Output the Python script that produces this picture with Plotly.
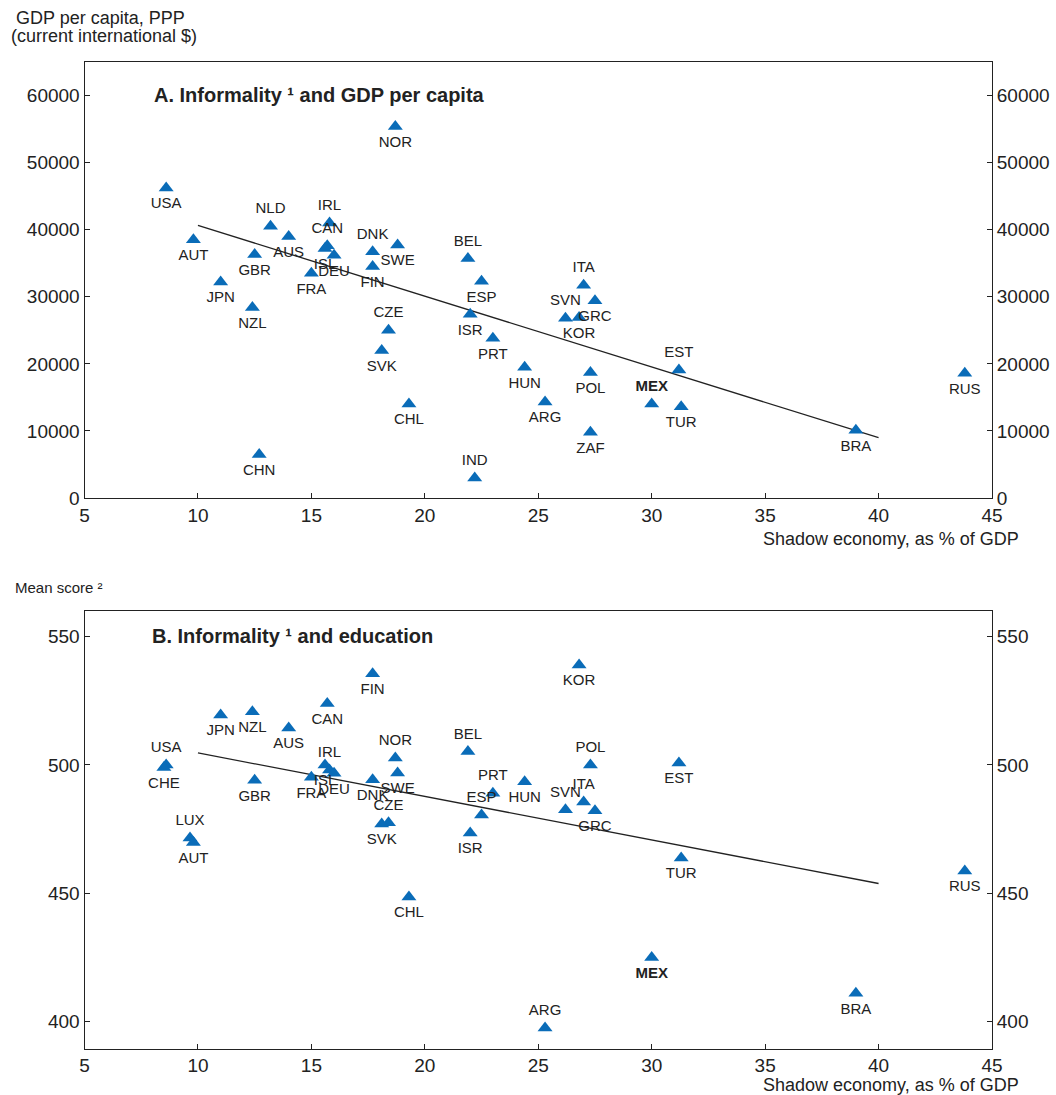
import plotly.graph_objects as go

# ---------------- Panel A: informality and GDP per capita ----------------
a_countries = ["USA", "AUT", "NLD", "AUS", "GBR", "JPN", "NZL", "IRL", "CAN", "ISL",
               "DEU", "FRA", "DNK", "FIN", "SWE", "NOR", "CZE", "SVK", "CHL", "BEL",
               "ESP", "ISR", "PRT", "HUN", "ARG", "IND", "ITA", "GRC", "SVN", "KOR",
               "POL", "ZAF", "MEX", "TUR", "EST", "RUS", "BRA", "CHN"]
a_shadow = [8.6, 9.8, 13.2, 14.0, 12.5, 11.0, 12.4, 15.8, 15.7, 15.6,
            16.0, 15.0, 17.7, 17.7, 18.8, 18.7, 18.4, 18.1, 19.3, 21.9,
            22.5, 22.0, 23.0, 24.4, 25.3, 22.2, 27.0, 27.5, 26.2, 26.8,
            27.3, 27.3, 30.0, 31.3, 31.2, 43.8, 39.0, 12.7]
a_gdp = [46200, 38500, 40500, 39000, 36300, 32200, 28400, 41000, 37600, 37200,
         36200, 33500, 36700, 34500, 37700, 55400, 25000, 22000, 14000, 35700,
         32300, 27400, 23800, 19500, 14300, 3000, 31700, 29400, 26800, 26900,
         18700, 9800, 14000, 13600, 19100, 18600, 10100, 6500]
a_trend_x = [10, 40]
a_trend_y = [40640, 8990]
a_above = {"NLD", "IRL", "CAN", "DNK", "CZE", "BEL", "IND", "ITA", "SVN", "MEX", "EST"}

# ---------------- Panel B: informality and education ----------------
b_countries = ["KOR", "FIN", "CAN", "NZL", "JPN", "AUS", "BEL", "NOR", "USA", "CHE",
               "POL", "EST", "ISL", "IRL", "DEU", "FRA", "GBR", "DNK", "SWE", "HUN",
               "PRT", "ESP", "ISR", "SVN", "ITA", "GRC", "TUR", "CZE", "SVK", "LUX",
               "AUT", "CHL", "MEX", "ARG", "BRA", "RUS"]
b_shadow = [26.8, 17.7, 15.7, 12.4, 11.0, 14.0, 21.9, 18.7, 8.6, 8.5,
            27.3, 31.2, 15.6, 15.8, 16.0, 15.0, 12.5, 17.7, 18.8, 24.4,
            23.0, 22.5, 22.0, 26.2, 27.0, 27.5, 31.3, 18.4, 18.1, 9.65,
            9.8, 19.3, 30.0, 25.3, 39.0, 43.8]
b_score = [539.0, 535.5, 524.0, 520.7, 519.5, 514.4, 505.2, 502.7, 500.0, 499.0,
           500.0, 500.8, 500.0, 498.0, 496.8, 495.2, 494.0, 494.2, 496.9, 493.5,
           489.0, 480.5, 473.5, 482.5, 485.6, 482.2, 463.7, 477.5, 477.0, 471.5,
           469.8, 448.5, 425.0, 397.5, 411.0, 458.7]
b_trend_x = [10, 40]
b_trend_y = [504.7, 453.8]
b_above = {"BEL", "NOR", "USA", "POL", "IRL", "PRT", "ESP", "SVN", "ITA", "CZE", "LUX", "ARG"}

x_ticks = [5, 10, 15, 20, 25, 30, 35, 40, 45]
a_yticks = [0, 10000, 20000, 30000, 40000, 50000, 60000]
b_yticks = [400, 450, 500, 550]

FONT = "Liberation Sans, Arial, Helvetica, sans-serif"
BLUE = "#0a6cb8"
INK = "#222222"
W, H = 1056, 1095


def lab(c):
    return "<b>MEX</b>" if c == "MEX" else c


fig = go.Figure()

fig.add_trace(go.Scatter(
    x=a_trend_x, y=a_trend_y, mode="lines", xaxis="x", yaxis="y",
    line=dict(color=INK, width=1.3), showlegend=False, hoverinfo="skip"))
fig.add_trace(go.Scatter(
    x=a_shadow, y=a_gdp, mode="markers+text", xaxis="x", yaxis="y",
    text=[lab(c) for c in a_countries],
    textposition=["top center" if c in a_above else "bottom center" for c in a_countries],
    textfont=dict(family=FONT, size=15, color=INK),
    marker=dict(symbol="triangle-up", size=13, color=BLUE, line=dict(width=0)),
    showlegend=False, cliponaxis=False))
fig.add_trace(go.Scatter(x=[None], y=[None], xaxis="x", yaxis="y2", showlegend=False))

fig.add_trace(go.Scatter(
    x=b_trend_x, y=b_trend_y, mode="lines", xaxis="x2", yaxis="y3",
    line=dict(color=INK, width=1.3), showlegend=False, hoverinfo="skip"))
fig.add_trace(go.Scatter(
    x=b_shadow, y=b_score, mode="markers+text", xaxis="x2", yaxis="y3",
    text=[lab(c) for c in b_countries],
    textposition=["top center" if c in b_above else "bottom center" for c in b_countries],
    textfont=dict(family=FONT, size=15, color=INK),
    marker=dict(symbol="triangle-up", size=13, color=BLUE, line=dict(width=0)),
    showlegend=False, cliponaxis=False))
fig.add_trace(go.Scatter(x=[None], y=[None], xaxis="x2", yaxis="y4", showlegend=False))

xdom = [84.5 / W, 992 / W]
a_dom = [1 - 498 / H, 1 - 62 / H]
b_dom = [1 - 1048.5 / H, 1 - 611 / H]

common = dict(showgrid=False, zeroline=False, showline=True, linecolor=INK, linewidth=1,
              ticks="inside", ticklen=5, tickcolor=INK, automargin=False,
              tickfont=dict(family=FONT, size=19, color=INK))

fig.update_layout(
    width=W, height=H, margin=dict(l=0, r=0, t=0, b=0, pad=0),
    paper_bgcolor="white", plot_bgcolor="white",
    font=dict(family=FONT, color=INK),
    xaxis=dict(domain=xdom, anchor="y", range=[5, 45], tickvals=x_ticks, mirror=True, **common),
    yaxis=dict(domain=a_dom, anchor="x", range=[0, 65000], tickvals=a_yticks, tickformat="d", **common),
    yaxis2=dict(overlaying="y", anchor="x", side="right", range=[0, 65000], tickvals=a_yticks,
                tickformat="d", **common),
    xaxis2=dict(domain=xdom, anchor="y3", range=[5, 45], tickvals=x_ticks, mirror=True, **common),
    yaxis3=dict(domain=b_dom, anchor="x2", range=[389.5, 560], tickvals=b_yticks, **common),
    yaxis4=dict(overlaying="y3", anchor="x2", side="right", range=[389.5, 560], tickvals=b_yticks,
                **common),
)

ann = [
    dict(text="<b>A. Informality ¹ and GDP per capita</b>", x=152 / W, y=1 - 95 / H,
         xanchor="left", yanchor="middle", font=dict(size=20)),
    dict(text="<b>B. Informality ¹ and education</b>", x=150 / W, y=1 - 636 / H,
         xanchor="left", yanchor="middle", font=dict(size=20)),
    dict(text="Shadow economy, as % of GDP", x=1021 / W, y=1 - 539 / H,
         xanchor="right", yanchor="middle", font=dict(size=18)),
    dict(text="Shadow economy, as % of GDP", x=1021 / W, y=1 - 1085 / H,
         xanchor="right", yanchor="middle", font=dict(size=18)),
    dict(text="GDP per capita, PPP", x=14 / W, y=1 - 18 / H,
         xanchor="left", yanchor="middle", font=dict(size=18)),
    dict(text="(current international $)", x=9 / W, y=1 - 36 / H,
         xanchor="left", yanchor="middle", font=dict(size=18)),
    dict(text="Mean score ²", x=13 / W, y=1 - 587 / H,
         xanchor="left", yanchor="middle", font=dict(size=15)),
]
for a in ann:
    a.update(xref="paper", yref="paper", showarrow=False)
    a["font"].update(family=FONT, color=INK)
fig.update_layout(annotations=ann)

fig.write_html("out.html")
